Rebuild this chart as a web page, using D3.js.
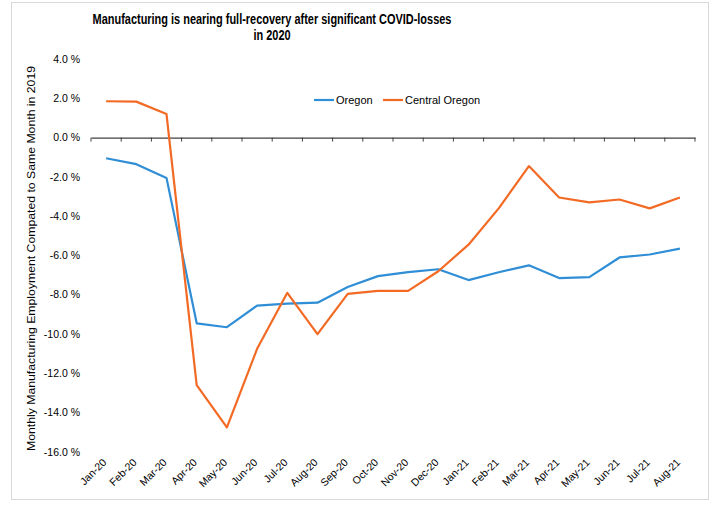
<!DOCTYPE html>
<html>
<head>
<meta charset="utf-8">
<script src="https://cdn.jsdelivr.net/npm/d3@7/dist/d3.min.js"></script>
<style>
  html, body { margin: 0; padding: 0; background: #ffffff; }
  svg { display: block; }
  text { font-family: "Liberation Sans", Arial, sans-serif; fill: #000; }
</style>
</head>
<body>
<svg id="chart" width="722" height="507"></svg>
<script>
// Months on the category axis
const months = ["Jan-20","Feb-20","Mar-20","Apr-20","May-20","Jun-20","Jul-20","Aug-20",
  "Sep-20","Oct-20","Nov-20","Dec-20","Jan-21","Feb-21","Mar-21","Apr-21","May-21",
  "Jun-21","Jul-21","Aug-21"];

// Year-over-year change in manufacturing employment, percent
const oregon = [-1.05, -1.35, -2.05, -9.45, -9.65, -8.55, -8.45, -8.4, -7.6, -7.05,
  -6.85, -6.7, -7.25, -6.85, -6.5, -7.15, -7.1, -6.1, -5.95, -5.65];
const centralOregon = [1.85, 1.83, 1.2, -12.6, -14.75, -10.75, -7.9, -10.0, -7.95, -7.8,
  -7.8, -6.8, -5.45, -3.6, -1.45, -3.05, -3.3, -3.15, -3.6, -3.05];

// Value axis ticks
const yTicks = [4, 2, 0, -2, -4, -6, -8, -10, -12, -14, -16];

const seriesNames = ["Oregon", "Central Oregon"];
const seriesColors = ["#2f8ed6", "#f26a24"];

const svg = d3.select("#chart");

// outer frame
svg.append("rect")
  .attr("x", 11.5).attr("y", 2.5).attr("width", 697).attr("height", 497)
  .attr("fill", "#fff").attr("stroke", "#d9d9d9").attr("stroke-width", 1);

const plotLeft = 91, plotRight = 695;

const x = d3.scalePoint().domain(months).range([plotLeft, plotRight]).padding(0.5);
const xBand = d3.scaleBand().domain(months).range([plotLeft, plotRight]);
const y = d3.scaleLinear().domain([-16, 4]).range([452, 59]);

// title, bold and horizontally condensed
const title = svg.append("text")
  .attr("transform", "translate(272,0) scale(0.73,1)")
  .attr("text-anchor", "middle")
  .style("font-weight", "bold")
  .style("font-size", "15px");
title.append("tspan").attr("x", 0).attr("y", 24)
  .text("Manufacturing is nearing full-recovery after significant COVID-losses");
title.append("tspan").attr("x", 0).attr("y", 40)
  .text("in 2020");

// y tick labels
svg.append("g").selectAll("text").data(yTicks).join("text")
  .attr("x", 80).attr("y", d => y(d)).attr("dy", "0.35em")
  .attr("text-anchor", "end")
  .style("font-size", "10.5px")
  .text(d => d.toFixed(1) + " %");

// y axis title
svg.append("text")
  .attr("transform", `translate(35,${(65 + 452) / 2}) rotate(-90)`)
  .attr("text-anchor", "middle")
  .attr("textLength", 385).attr("lengthAdjust", "spacingAndGlyphs")
  .style("font-size", "11.5px")
  .text("Monthly Manufacturing Employment Compated to  Same Month in 2019");

// zero axis with category boundary ticks
const axis = svg.append("g").attr("transform", `translate(0,${y(0)})`)
  .call(d3.axisBottom(xBand).tickSizeInner(0).tickSizeOuter(0).tickFormat(""));
axis.select(".domain").attr("stroke", "#404040").attr("stroke-width", 1.3);
const bounds = months.map(m => xBand(m)).concat([plotRight]);
axis.selectAll(".bound").data(bounds).join("line")
  .attr("class", "bound")
  .attr("x1", d => d).attr("x2", d => d)
  .attr("y1", 0).attr("y2", 4)
  .attr("stroke", "#404040").attr("stroke-width", 1);

// month labels
svg.append("g").selectAll("text").data(months).join("text")
  .attr("transform", d => `translate(${x(d) + 1},${463}) rotate(-45)`)
  .attr("text-anchor", "end")
  .style("font-size", "10.5px")
  .text(d => d);

// lines
const line = d3.line().x((d, i) => x(months[i])).y(d => y(d));
[oregon, centralOregon].forEach((vals, k) => {
  svg.append("path")
    .datum(vals)
    .attr("fill", "none")
    .attr("stroke", seriesColors[k])
    .attr("stroke-width", 2.2)
    .attr("stroke-linejoin", "round")
    .attr("d", line);
});

// legend
const legend = svg.append("g").attr("transform", "translate(314,100)");
const legendX = [0, 69];
seriesNames.forEach((name, k) => {
  const g = legend.append("g").attr("transform", `translate(${legendX[k]},0)`);
  g.append("line").attr("x1", 0).attr("x2", 20).attr("y1", 0).attr("y2", 0)
    .attr("stroke", seriesColors[k]).attr("stroke-width", 2.2);
  g.append("text").attr("x", 22).attr("y", 0).attr("dy", "0.35em")
    .style("font-size", "11px").text(name);
});
</script>
</body>
</html>
